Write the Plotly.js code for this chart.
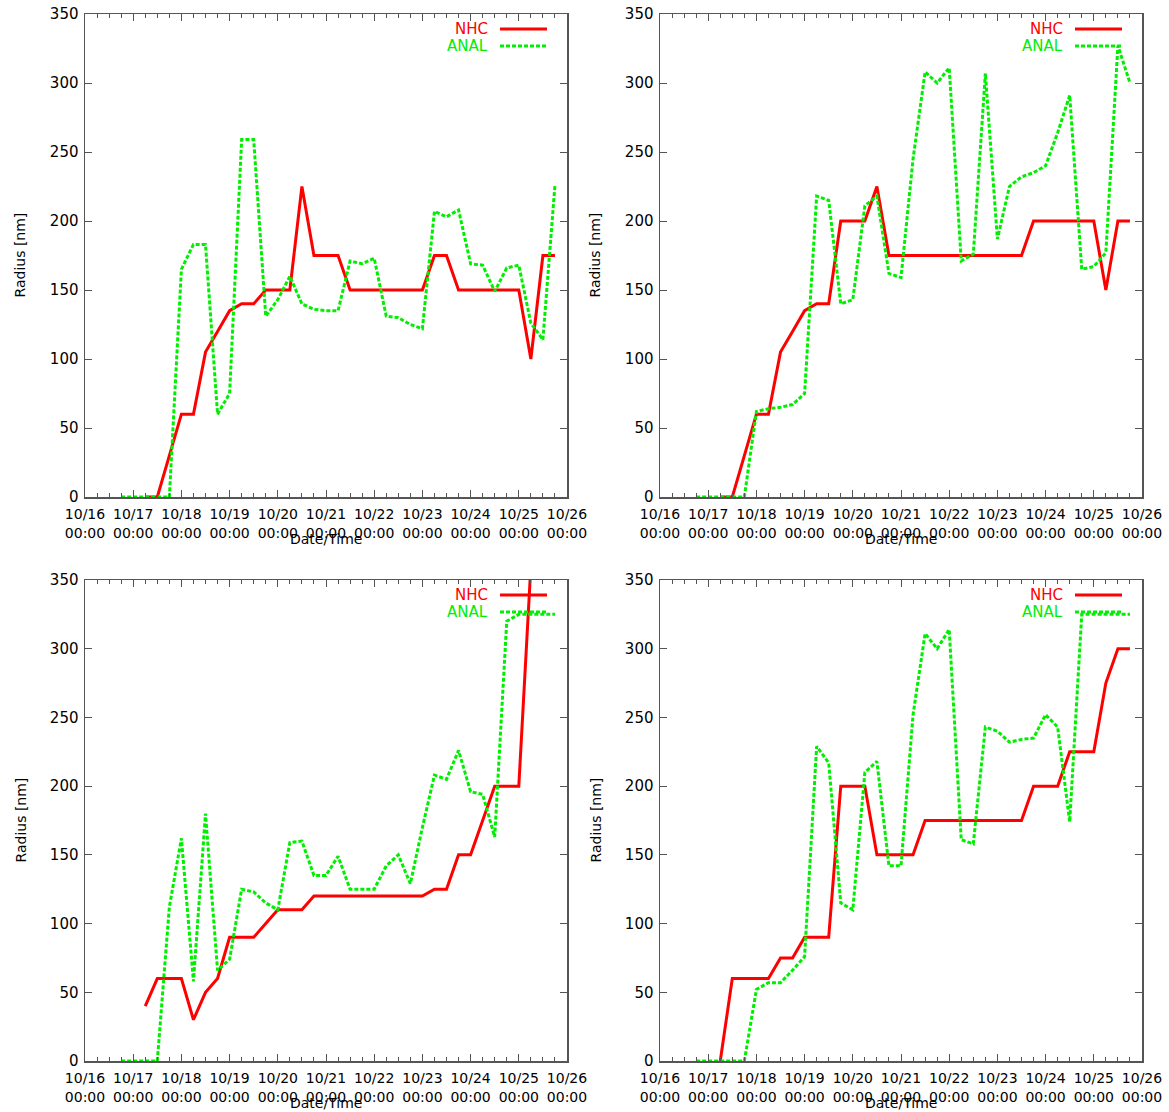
<!DOCTYPE html>
<html>
<head>
<meta charset="utf-8">
<script src="https://cdn.plot.ly/plotly-3.0.1.min.js"></script>
<style>
  html, body { margin: 0; padding: 0; background: #fff; }
  #chart { width: 1169px; height: 1112px; }
</style>
</head>
<body>
<div id="chart"></div>
<script>
// Major tick labels: one per day, at 00:00
const dayLabels = ['10/16', '10/17', '10/18', '10/19', '10/20', '10/21',
                   '10/22', '10/23', '10/24', '10/25', '10/26'];
const hourLabel = '00:00';
const stepHours = 6;           // both series are 6-hourly
const seriesNames = ['NHC', 'ANAL'];
const yTitle = 'Radius [nm]';
const xTitle = 'Date/Time';

// Panel 1 (upper left)
const p1NhcStart = '10/17 06:00';
const p1Nhc = [0, 0, 30, 60, 60, 105, 120, 135, 140, 140, 150, 150, 150, 225, 175, 175, 175,
               150, 150, 150, 150, 150, 150, 150, 175, 175, 150, 150, 150, 150, 150, 150,
               100, 175, 175];
const p1AnalStart = '10/16 18:00';
const p1Anal = [0, 0, 0, 0, 0, 165, 183, 183, 60, 75, 259, 259, 131, 143, 160, 140, 136, 135,
                135, 171, 169, 173, 131, 130, 125, 122, 207, 203, 208, 169, 168, 149, 166,
                168, 126, 114, 226];

// Panel 2 (upper right)
const p2NhcStart = '10/17 06:00';
const p2Nhc = [0, 0, 30, 60, 60, 105, 120, 135, 140, 140, 200, 200, 200, 225, 175, 175, 175,
               175, 175, 175, 175, 175, 175, 175, 175, 175, 200, 200, 200, 200, 200, 200,
               150, 200, 200];
const p2AnalStart = '10/16 18:00';
const p2Anal = [0, 0, 0, 0, 0, 62, 64, 65, 67, 75, 218, 215, 140, 143, 211, 218, 162, 159,
                245, 308, 300, 311, 171, 176, 307, 187, 225, 232, 235, 240, 264, 291, 165,
                167, 177, 327, 300];

// Panel 3 (lower left)
const p3NhcStart = '10/17 06:00';
const p3Nhc = [40, 60, 60, 60, 30, 50, 60, 90, 90, 90, 100, 110, 110, 110, 120, 120, 120,
               120, 120, 120, 120, 120, 120, 120, 125, 125, 150, 150, 175, 200, 200, 200, 360];
const p3AnalStart = '10/16 18:00';
const p3Anal = [0, 0, 0, 0, 112, 162, 58, 180, 66, 74, 125, 123, 115, 110, 159, 160, 135, 135,
                149, 125, 125, 125, 142, 150, 129, 170, 208, 205, 226, 196, 194, 163, 320,
                325, 325, 325, 325];

// Panel 4 (lower right)
const p4NhcStart = '10/17 06:00';
const p4Nhc = [0, 60, 60, 60, 60, 75, 75, 90, 90, 90, 200, 200, 200, 150, 150, 150, 150,
               175, 175, 175, 175, 175, 175, 175, 175, 175, 200, 200, 200, 225, 225, 225,
               275, 300, 300];
const p4AnalStart = '10/16 18:00';
const p4Anal = [0, 0, 0, 0, 0, 52, 57, 57, 66, 76, 229, 217, 115, 110, 210, 218, 142, 142,
                252, 311, 300, 314, 161, 158, 243, 240, 232, 234, 235, 252, 243, 174, 325,
                325, 325, 325, 325];

const panelData = [
  [p1NhcStart, p1Nhc, p1AnalStart, p1Anal],
  [p2NhcStart, p2Nhc, p2AnalStart, p2Anal],
  [p3NhcStart, p3Nhc, p3AnalStart, p3Anal],
  [p4NhcStart, p4Nhc, p4AnalStart, p4Anal]
];

// ---- drawing ----
const W = 1169, H = 1112;
const RED = '#ff0000', GREEN = '#00ee00';
const AXIS = '#555555';
const FONT = 'DejaVu Sans, Liberation Sans, sans-serif';

// Plot boxes in pixels (left, right, top, bottom)
const boxes = [
  [85, 567, 14, 497],
  [660, 1142, 14, 497],
  [85, 567, 580, 1061],
  [660, 1142, 580, 1061]
];

// 'MM/DD HH:MM' -> days after the first labelled day at 00:00
const firstDay = +dayLabels[0].split('/')[1];
function toDays(stamp) {
  const [md, hm] = stamp.split(' ');
  const [h, m] = hm.split(':').map(Number);
  return (+md.split('/')[1]) - firstDay + (h + m / 60) / 24;
}
function timeAxis(start, values) {
  const t0 = toDays(start);
  return values.map((_, i) => t0 + i * stepHours / 24);
}

const traces = [];
const layout = {
  width: W, height: H,
  margin: { l: 0, r: 0, t: 0, b: 0 },
  paper_bgcolor: '#ffffff',
  plot_bgcolor: '#ffffff',
  showlegend: false,
  annotations: [],
  shapes: []
};

const tickVals = dayLabels.map((_, i) => i);
const tickText = dayLabels.map(d => d + '<br>' + hourLabel);

boxes.forEach(([l, r, t, b], k) => {
  const n = k === 0 ? '' : String(k + 1);
  const xa = 'x' + n, ya = 'y' + n;
  const [nhcStart, nhc, analStart, anal] = panelData[k];

  traces.push({
    x: timeAxis(nhcStart, nhc), y: nhc, name: seriesNames[0],
    type: 'scatter', mode: 'lines', xaxis: xa, yaxis: ya,
    line: { color: RED, width: 3 }, hoverinfo: 'x+y'
  });
  traces.push({
    x: timeAxis(analStart, anal), y: anal, name: seriesNames[1],
    type: 'scatter', mode: 'lines', xaxis: xa, yaxis: ya,
    line: { color: GREEN, width: 3, dash: '4px,2px' }, hoverinfo: 'x+y'
  });

  layout['xaxis' + n] = {
    domain: [l / W, r / W], anchor: ya,
    range: [0, dayLabels.length - 1],
    tickmode: 'array', tickvals: tickVals, ticktext: tickText,
    ticks: 'inside', ticklen: 7, tickwidth: 1, tickcolor: AXIS,
    ticklabelstandoff: 4,
    minor: { tickmode: 'linear', tick0: 0, dtick: 0.25, ticks: 'inside',
             ticklen: 4, tickwidth: 1, tickcolor: AXIS, showgrid: false },
    showline: true, linecolor: AXIS, linewidth: 1.5, mirror: 'ticks',
    showgrid: false, zeroline: false,
    tickfont: { family: FONT, size: 14, color: '#000' }
  };
  layout['yaxis' + n] = {
    domain: [1 - b / H, 1 - t / H], anchor: xa,
    range: [0, 350], tick0: 0, dtick: 50,
    ticks: 'inside', ticklen: 7, tickwidth: 1, tickcolor: AXIS,
    ticklabelstandoff: 2,
    showline: true, linecolor: AXIS, linewidth: 1.5, mirror: 'ticks',
    showgrid: false, zeroline: false,
    tickfont: { family: FONT, size: 15, color: '#000' }
  };

  // axis titles
  layout.annotations.push({
    text: xTitle, xref: 'paper', yref: 'paper',
    x: (l + r) / 2 / W, y: 1 - (b + 42) / H, xanchor: 'center', yanchor: 'middle',
    showarrow: false, font: { family: FONT, size: 14, color: '#000' }
  });
  layout.annotations.push({
    text: yTitle, xref: 'paper', yref: 'paper', textangle: -90,
    x: (l - 65) / W, y: 1 - (t + b) / 2 / H, xanchor: 'center', yanchor: 'middle',
    showarrow: false, font: { family: FONT, size: 14, color: '#000' }
  });

  // key in the upper right corner: name, then line sample
  [[seriesNames[0], RED, 'solid', 15], [seriesNames[1], GREEN, '4px,2px', 32]].forEach(
    ([name, color, dash, dy]) => {
      layout.annotations.push({
        text: name, xref: 'paper', yref: 'paper',
        x: (r - 77) / W, y: 1 - (t + dy) / H, xanchor: 'right', yanchor: 'middle',
        showarrow: false, font: { family: FONT, size: 15, color: color }
      });
      layout.shapes.push({
        type: 'line', xref: 'paper', yref: 'paper',
        x0: (r - 67) / W, x1: (r - 20) / W,
        y0: 1 - (t + dy) / H, y1: 1 - (t + dy) / H,
        line: { color: color, width: 3, dash: dash }
      });
    });
});

Plotly.newPlot('chart', traces, layout, { staticPlot: true, displayModeBar: false });
</script>
</body>
</html>
